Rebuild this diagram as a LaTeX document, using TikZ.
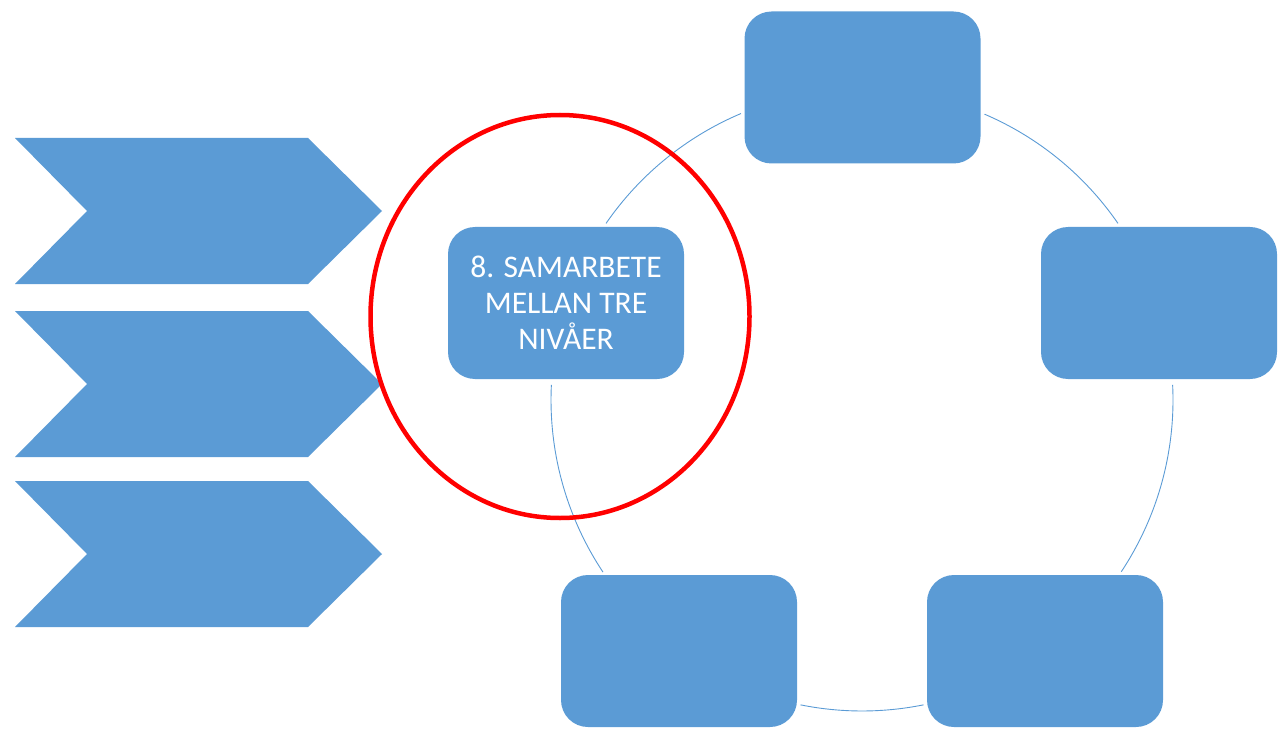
\documentclass[tikz,border=0pt]{standalone}
\usepackage{fontspec}
\setmainfont{Carlito}
\definecolor{accblue}{HTML}{5B9BD5}
\definecolor{ringred}{HTML}{FF0000}
\begin{document}
\begin{tikzpicture}[x=1pt,y=-1pt,
  box/.style={fill=accblue,draw=none,rounded corners=27pt,minimum width=236pt,minimum height=152pt,inner sep=0pt,
    text=white,align=center,font=\fontsize{31.5}{36}\selectfont},
  chev/.style={fill=accblue,draw=none},
  ring/.style={draw=accblue,line width=0.9pt},
  hilite/.style={draw=ringred,line width=4.5pt}]
\useasboundingbox (0,0) rectangle (1281,735);
% chevrons
\foreach \t/\n in {138/c1,311/c2,481/c3}{
  \fill[chev] (15,\t) -- (308,\t) -- (382,\t+73) -- (308,\t+146) -- (15,\t+146) -- (87,\t+73) -- cycle;
}
% ring
\coordinate (ctr) at (862,400);
\draw[ring] (ctr) ++(-112.9:311) arc[start angle=-112.9,end angle=-145.4,radius=311];
\draw[ring] (ctr) ++(-66.8:311) arc[start angle=-66.8,end angle=-34.6,radius=311];
\draw[ring] (ctr) ++(-2.8:311) arc[start angle=-2.8,end angle=33.5,radius=311];
\draw[ring] (ctr) ++(78.6:311) arc[start angle=78.6,end angle=101.4,radius=311];
\draw[ring] (ctr) ++(146.4:311) arc[start angle=146.4,end angle=182.8,radius=311];
% boxes
\node[box] (top) at (862.5,87.5) {};
\node[box] (right) at (1159,303) {};
\node[box] (br) at (1045,651) {};
\node[box] (bl) at (679,651) {};
\node[box] (left) at (566,303) {8. SAMARBETE\\MELLAN TRE\\NIVÅER};
% highlight ellipse
\draw[hilite] (560,316.5) ellipse[x radius=189.5,y radius=201.5];
\end{tikzpicture}
\end{document}
